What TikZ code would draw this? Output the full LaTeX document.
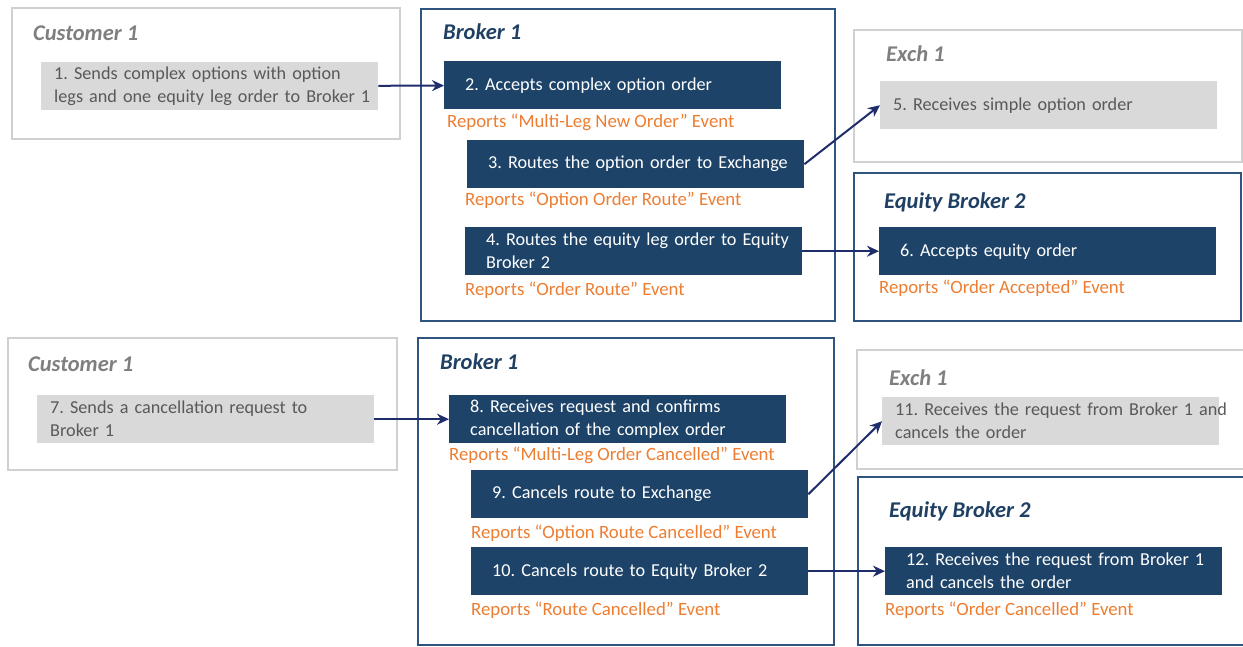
\documentclass[tikz,border=0pt]{standalone}
\usepackage{fontspec}
\setmainfont{Carlito}
\usetikzlibrary{arrows.meta, positioning}
\definecolor{navyfill}{RGB}{29, 67, 105}
\definecolor{navyline}{RGB}{47, 84, 126}
\definecolor{navyarrow}{RGB}{31, 45, 107}
\definecolor{navytitle}{RGB}{31, 63, 99}
\definecolor{greyfill}{RGB}{217, 217, 217}
\definecolor{greytext}{RGB}{89, 89, 89}
\definecolor{greytitle}{RGB}{127, 127, 127}
\definecolor{greyline}{RGB}{208, 208, 208}
\definecolor{reportorange}{RGB}{237, 125, 49}
\frenchspacing

\begin{document}
\begin{tikzpicture}[x=1pt, y=-1pt,
    font=\fontsize{18.2}{23}\selectfont,
    lanelight/.style={draw=greyline, line width=1.5pt},
    lanedark/.style={draw=navyline, line width=2pt},
    lanetitle/.style={anchor=west, inner sep=0pt, font=\fontsize{22.5}{26}\selectfont\bfseries\itshape},
    stepbox/.style={anchor=north west, rectangle, inner xsep=0pt, inner ysep=0pt,
        minimum height=48pt, text width=337pt, align=left},
    greystep/.style={stepbox, fill=greyfill, text=greytext,
        execute at begin node={\leftskip=13pt\rightskip=-40pt plus 1fil\hyphenpenalty=10000}},
    bluestep/.style={stepbox, fill=navyfill, text=white,
        execute at begin node={\leftskip=21pt\rightskip=-40pt plus 1fil\hyphenpenalty=10000}},
    report/.style={anchor=west, inner sep=0pt, text=reportorange, font=\fontsize{18.8}{23}\selectfont},
    flow/.style={-{Stealth[length=12pt, width=11pt]}, navyarrow, line width=2pt}]

  \useasboundingbox (0,0) rectangle (1243,647);
  \clip (0,0) rectangle (1243,647);

  % ===== upper half: new complex order =====

  % lanes
  \draw[lanelight] (12,8) rectangle (400,139);
  \draw[lanedark] (421,9) rectangle (835,321);
  \draw[lanelight] (854,30) rectangle (1242,162);
  \draw[lanedark] (854,173) rectangle (1241,321);

  \node[lanetitle, text=greytitle] (cust1) at (33,33) {Customer 1};
  \node[lanetitle, text=navytitle] (brok1) at (443,32) {Broker 1};
  \node[lanetitle, text=greytitle] (exch1) at (886,54) {Exch 1};
  \node[lanetitle, text=navytitle] (eqbr2) at (884,202) {Equity Broker 2};

  % steps
  \node[greystep] (s1) at (41,62) {1. Sends complex options with option\\legs and one equity leg order to Broker 1};
  \node[bluestep] (s2) at (444,61) {2. Accepts complex option order};
  \node[bluestep] (s3) at (467,140) {3. Routes the option order to Exchange};
  \node[bluestep] (s4) at (465,227) {4. Routes the equity leg order to Equity\\Broker 2};
  \node[greystep] (s5) at (880,81) {5. Receives simple option order};
  \node[bluestep] (s6) at (879,227) {6. Accepts equity order};

  % reported events
  \node[report] (r2) at (447,122) {Reports “Multi-Leg New Order” Event};
  \node[report] (r3) at (465,200) {Reports “Option Order Route” Event};
  \node[report] (r4) at (465,290) {Reports “Order Route” Event};
  \node[report] (r6) at (879,288) {Reports “Order Accepted” Event};

  \draw[flow] (s1) -- (s2);
  \draw[flow] (s3.east) -- (s5.west);
  \draw[flow] (s4.east) -- (s6.west);

  % ===== lower half: cancellation =====

  % lanes
  \draw[lanelight] (8,338) rectangle (397,470);
  \draw[lanedark] (418,338) rectangle (834,645);
  \draw[lanelight] (857,350) rectangle (1250,469);
  \draw[lanedark] (858,477) rectangle (1250,645);

  \node[lanetitle, text=greytitle] (cust1b) at (28,364) {Customer 1};
  \node[lanetitle, text=navytitle] (brok1b) at (440,362) {Broker 1};
  \node[lanetitle, text=greytitle] (exch1b) at (889,378) {Exch 1};
  \node[lanetitle, text=navytitle] (eqbr2b) at (889,511) {Equity Broker 2};

  % steps
  \node[greystep] (s7) at (37,395) {7. Sends a cancellation request to\\Broker 1};
  \node[bluestep] (s8) at (449,395) {8. Receives request and confirms\\cancellation of the complex order};
  \node[bluestep] (s9) at (471,470) {9. Cancels route to Exchange};
  \node[bluestep] (s10) at (471,547) {10. Cancels route to Equity Broker 2};
  \node[greystep] (s11) at (882,397) {11. Receives the request from Broker 1 and\\cancels the order};
  \node[bluestep] (s12) at (885,547) {12. Receives the request from Broker 1\\and cancels the order};

  % reported events
  \node[report] (r8) at (449,455) {Reports “Multi-Leg Order Cancelled” Event};
  \node[report] (r9) at (471,533) {Reports “Option Route Cancelled” Event};
  \node[report] (r10) at (471,610) {Reports “Route Cancelled” Event};
  \node[report] (r12) at (885,610) {Reports “Order Cancelled” Event};

  \draw[flow] (s7) -- (s8);
  \draw[flow] (s9.east) -- (s11.west);
  \draw[flow] (s10.east) -- (s12.west);

\end{tikzpicture}
\end{document}
